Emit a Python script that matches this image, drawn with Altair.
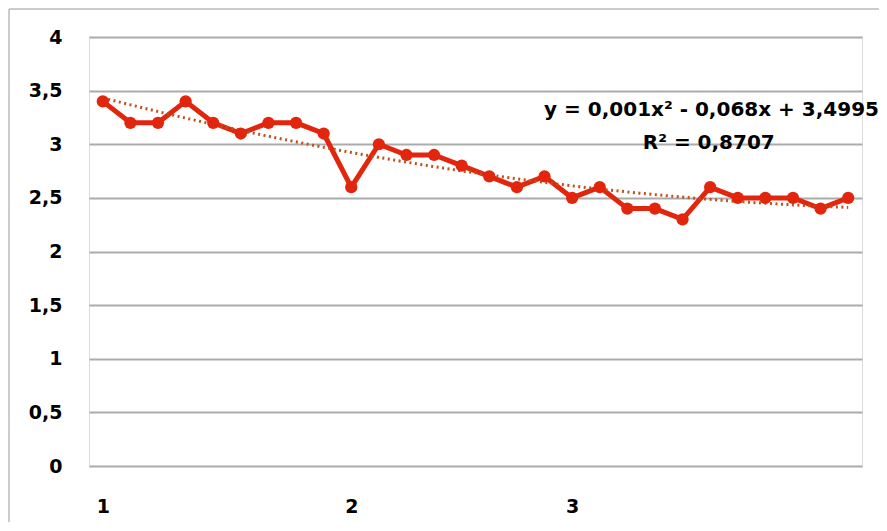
import altair as alt
import pandas as pd

# Data
idx = list(range(1, 29))
values = [3.4, 3.2, 3.2, 3.4, 3.2, 3.1, 3.2, 3.2, 3.1, 2.6,
          3.0, 2.9, 2.9, 2.8, 2.7, 2.6, 2.7, 2.5, 2.6, 2.4,
          2.4, 2.3, 2.6, 2.5, 2.5, 2.5, 2.4, 2.5]
x_tick_positions = [1, 10, 18]
x_tick_labels = ["1", "2", "3"]
y_ticks = [0, 0.5, 1, 1.5, 2, 2.5, 3, 3.5, 4]
ann_text = ["y = 0,001x² - 0,068x + 3,4995", "R² = 0,8707"]
ann_x = [23.05, 22.95]
ann_y = [3.32, 3.01]

df = pd.DataFrame({"i": idx, "v": values})
ann = pd.DataFrame({"t": ann_text, "x": ann_x, "y": ann_y})

FONT = "DejaVu Sans"
LINE = "#E2260D"

label_expr = " : ".join(
    f"datum.value == {p} ? '{l}'" for p, l in zip(x_tick_positions, x_tick_labels)
) + " : ''"

xs = alt.Scale(domain=[0.5, 28.5], nice=False, zero=False)
ys = alt.Scale(domain=[0, 4], nice=False)

x_enc = alt.X("i:Q", scale=xs, axis=alt.Axis(
    values=x_tick_positions, labelExpr=label_expr, grid=False, domain=False,
    ticks=False, title=None, labelFont=FONT, labelFontWeight="bold",
    labelFontSize=19, labelPadding=31, labelColor="#000"))
y_enc = alt.Y("v:Q", scale=ys, axis=alt.Axis(
    values=y_ticks, labelExpr="replace(format(datum.value, '~g'), '.', ',')",
    grid=True, gridColor="#ababab", gridWidth=1.8, domain=False, ticks=False,
    title=None, labelFont=FONT, labelFontWeight="bold", labelFontSize=19,
    labelPadding=27, labelColor="#000"))

base = alt.Chart(df)

trend = base.transform_regression(
    "i", "v", method="poly", order=2, extent=[1, 28]
).mark_line(color="#C0501A", strokeDash=[2, 3.5], strokeWidth=3).encode(
    x=alt.X("i:Q", scale=xs), y=alt.Y("v:Q", scale=ys))

line = base.mark_line(color=LINE, strokeWidth=5).encode(x=x_enc, y=y_enc)
pts = base.mark_circle(color=LINE, size=150, opacity=1).encode(
    x=alt.X("i:Q", scale=xs), y=alt.Y("v:Q", scale=ys))

text = alt.Chart(ann).mark_text(
    font=FONT, fontWeight="bold", fontSize=20, color="#000",
    align="center", baseline="middle").encode(
    x=alt.X("x:Q", scale=xs), y=alt.Y("y:Q", scale=ys), text="t:N")

border_top = alt.Chart(ann).mark_rule(color="#c8c8c8", strokeWidth=1.5).encode(
    x=alt.value(-80), x2=alt.value(800), y=alt.value(-28))
border_left = alt.Chart(ann).mark_rule(color="#c8c8c8", strokeWidth=1.5).encode(
    x=alt.value(-80), y=alt.value(-28), y2=alt.value(500))

chart = alt.layer(line, trend, pts, text, border_top, border_left).properties(
    width=773, height=429,
    autosize=alt.AutoSizeParams(type="none"),
    padding={"left": 81, "top": 29, "right": 17, "bottom": 56},
).configure_view(stroke=None).configure(background="white")

chart.save("out.html", embed_options={"renderer": "svg", "actions": False})
